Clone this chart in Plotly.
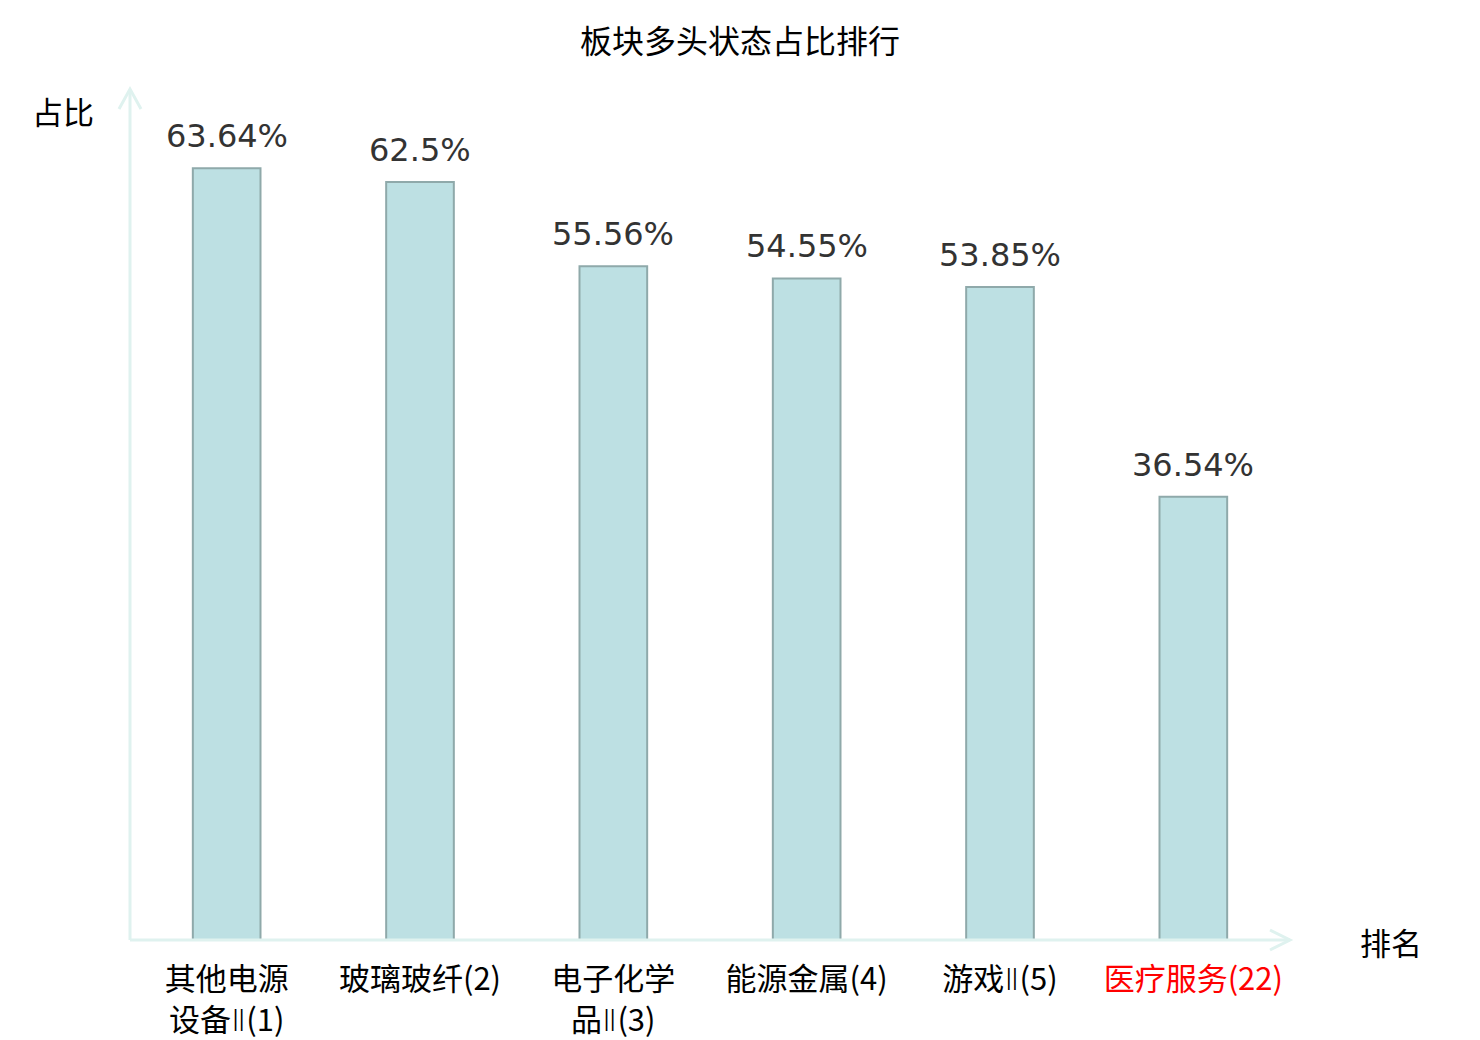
import plotly.graph_objects as go

# 板块多头状态占比排行
sectors = ["其他电源<br>设备Ⅱ(1)", "玻璃玻纤(2)", "电子化学<br>品Ⅱ(3)", "能源金属(4)", "游戏Ⅱ(5)", "医疗服务(22)"]
ratio = [63.64, 62.5, 55.56, 54.55, 53.85, 36.54]
ratio_text = ["63.64%", "62.5%", "55.56%", "54.55%", "53.85%", "36.54%"]
highlight = "医疗服务(22)"

# page body has an 8px margin, so the figure is shifted by 8px
W, H = 1464, 1032
PW, PH = 1160, 849
ML, MT = 122, 83
MR = W - ML - PW
MB = H - MT - PH
X0, Y0 = 130, 940  # where the axes meet on the screenshot

axis_col = "#dff2ef"
cjk = "Noto Sans CJK SC"


def tick_label(s):
    s = s.replace("Ⅱ", '<span style="font-family:DejaVu Sans;font-weight:200">Ⅱ</span>')
    if s == highlight:
        s = f'<span style="color:red">{s}</span>'
    return s


fig = go.Figure()

fig.add_trace(
    go.Bar(
        x=list(range(len(ratio))),
        y=ratio,
        width=0.35,
        marker=dict(color="#bde0e3", line=dict(color="#8fa9aa", width=2)),
        hoverinfo="skip",
    )
)

# value labels above bars
for i, (v, t) in enumerate(zip(ratio, ratio_text)):
    fig.add_annotation(
        x=i, y=v, text=t, showarrow=False, yanchor="bottom", yshift=11,
        font=dict(family="DejaVu Sans", size=32, color="#333333"),
    )


def px(dx, dy, bx, by):
    # pixel offset -> paper coords
    return bx + dx / PW, by + dy / PH


# axis lines with open arrow heads
top = 1 + 2 / PH
fig.add_shape(type="line", xref="paper", yref="paper", x0=0, y0=0, x1=1, y1=0,
              line=dict(color=axis_col, width=3))
fig.add_shape(type="line", xref="paper", yref="paper", x0=0, y0=0, x1=0, y1=top,
              line=dict(color=axis_col, width=3))

a1 = px(-11, -20, 0, top)
a2 = px(11, -20, 0, top)
fig.add_shape(type="path", xref="paper", yref="paper",
              path=f"M {a1[0]} {a1[1]} L 0 {top} L {a2[0]} {a2[1]}",
              line=dict(color=axis_col, width=3))
b1 = px(-20, 10, 1, 0)
b2 = px(-20, -10, 1, 0)
fig.add_shape(type="path", xref="paper", yref="paper",
              path=f"M {b1[0]} {b1[1]} L 1 0 L {b2[0]} {b2[1]}",
              line=dict(color=axis_col, width=3))

fig.add_annotation(xref="paper", yref="paper", x=(63 - X0) / PW, y=(Y0 - 110) / PH,
                   text="占比", showarrow=False, xanchor="center", yanchor="middle",
                   font=dict(family=cjk, size=31, color="black"))
fig.add_annotation(xref="paper", yref="paper", x=(1391 - X0) / PW, y=(Y0 - 941) / PH,
                   text="排名", showarrow=False, xanchor="center", yanchor="middle",
                   font=dict(family=cjk, size=31, color="black"))

fig.update_layout(
    width=W,
    height=H,
    margin=dict(l=ML, r=MR, t=MT, b=MB, autoexpand=False),
    paper_bgcolor="white",
    plot_bgcolor="white",
    showlegend=False,
    title=dict(text="板块多头状态占比排行", x=(740 - 8) / W, xanchor="center", y=1 - 34 / H,
               yanchor="middle", font=dict(family=cjk, size=32, color="black")),
    xaxis=dict(
        range=[-0.5, 5.5],
        tickvals=list(range(len(sectors))),
        ticktext=[tick_label(s) for s in sectors],
        showgrid=False,
        zeroline=False,
        showline=False,
        automargin=False,
        ticks="outside",
        ticklen=12,
        tickcolor="rgba(0,0,0,0)",
        tickfont=dict(family=cjk, size=31, color="black"),
    ),
    yaxis=dict(
        range=[0, 70],
        showgrid=False,
        zeroline=False,
        showline=False,
        showticklabels=False,
        automargin=False,
        ticks="",
    ),
)

fig.write_html("out.html")
